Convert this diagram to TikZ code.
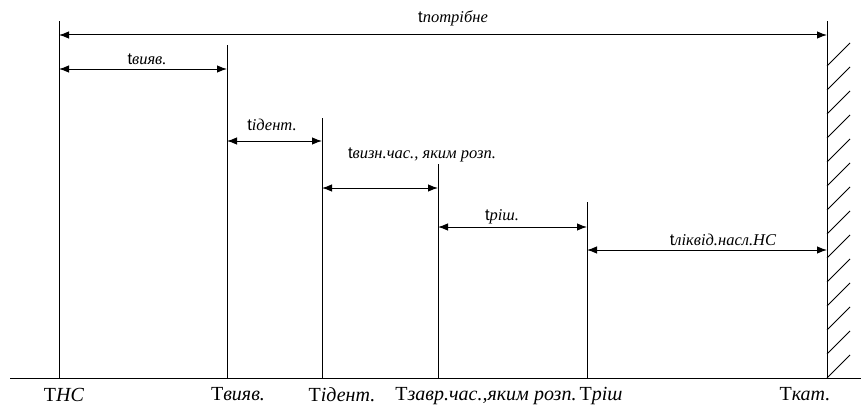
\documentclass[tikz,border=0pt]{standalone}
\usepackage{fontspec}
\setmainfont{Liberation Serif}
\newfontfamily\tsans{Liberation Sans}
\usetikzlibrary{arrows.meta}
\begin{document}
\begin{tikzpicture}[x=1pt,y=-1pt,line width=1pt,
  dim/.style={{Latex[length=10pt,width=7.5pt]}-{Latex[length=10pt,width=7.5pt]}},
  toplbl/.style={anchor=base,inner sep=0pt,font=\fontsize{16.5}{16.5}\selectfont},
  botlbl/.style={anchor=base,inner sep=0pt,font=\fontsize{20}{20}\selectfont},
  hatch/.style={line width=0.8pt}]
\useasboundingbox (0,0) rectangle (861,404);
% ground line
\coordinate (g0) at (10,378);
\coordinate (g1) at (861,378);
\draw (g0) -- (g1);
% vertical lines
\coordinate (b1) at (59,378);  \coordinate (t1) at (59,21);
\coordinate (b2) at (227,378); \coordinate (t2) at (227,45);
\coordinate (b3) at (322,378); \coordinate (t3) at (322,118);
\coordinate (b4) at (438,378); \coordinate (t4) at (438,164);
\coordinate (b5) at (587,378); \coordinate (t5) at (587,202);
\coordinate (b6) at (827,378); \coordinate (t6) at (827,21);
\foreach \i in {1,...,6} {\draw (b\i) -- (t\i);}
% hatching of the wall
\foreach \k in {0,...,13} {\draw[hatch] (827,378-24*\k) -- ++(23,-23);}
% dimension arrows
\coordinate (a1l) at (59,35);  \coordinate (a1r) at (827,35);
\coordinate (a2l) at (59,69);  \coordinate (a2r) at (227,69);
\coordinate (a3l) at (227,141); \coordinate (a3r) at (322,141);
\coordinate (a4l) at (322,188); \coordinate (a4r) at (438,188);
\coordinate (a5l) at (438,227); \coordinate (a5r) at (587,227);
\coordinate (a6l) at (587,250); \coordinate (a6r) at (827,250);
\foreach \i in {1,...,6} {\draw[dim] (a\i l) -- (a\i r);}
% top labels
\node[toplbl] (l1) at (453,23) {{\tsans t}\textit{потрібне}};
\node[toplbl] (l2) at (147,64) {{\tsans t}\textit{вияв.}};
\node[toplbl] (l3) at (272,130) {{\tsans t}\textit{ідент.}};
\node[toplbl] (l4) at (422,158) {{\tsans t}\textit{визн.час., яким розп.}};
\node[toplbl] (l5) at (502,220) {{\tsans t}\textit{ріш.}};
\node[toplbl] (l6) at (723,245) {{\tsans t}\textit{ліквід.насл.НС}};
% bottom labels
\node[botlbl] (m1) at (64,401) {T\textit{НС}};
\node[botlbl] (m2) at (238,400) {T\textit{вияв.}};
\node[botlbl] (m3) at (342,401) {T\textit{ідент.}};
\node[botlbl] (m4) at (486,400) {T\textit{завр.час.,яким розп.}};
\node[botlbl] (m5) at (601,400) {T\textit{ріш}};
\node[botlbl] (m6) at (805,400) {T\textit{кат.}};
\end{tikzpicture}
\end{document}
